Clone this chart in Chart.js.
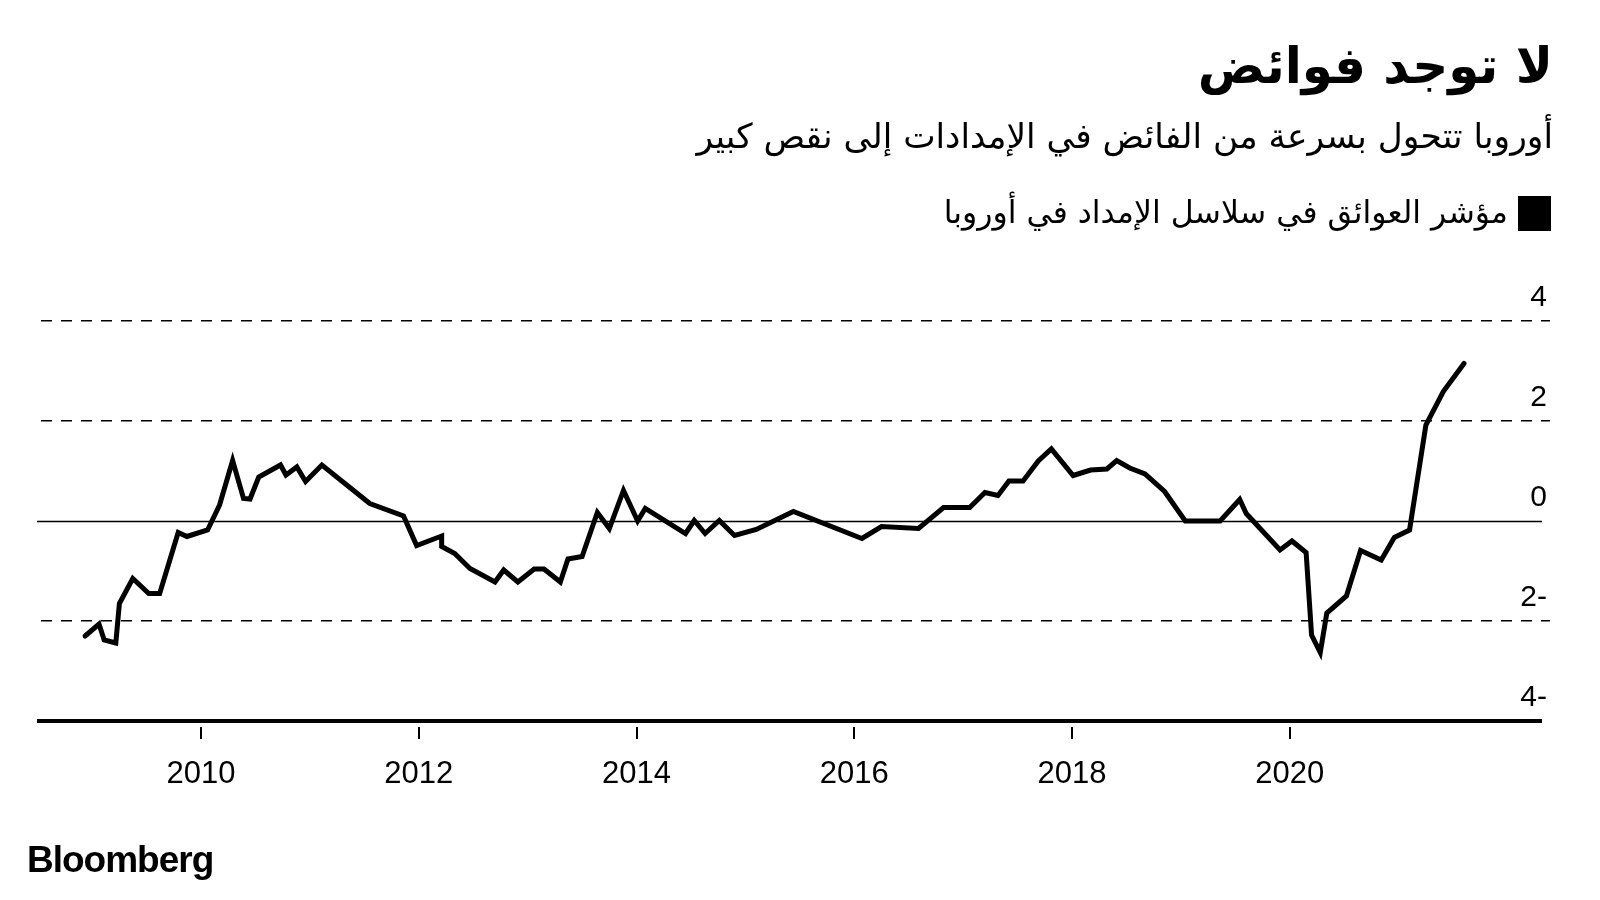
<!DOCTYPE html>
<html lang="ar">
<head>
<meta charset="utf-8">
<script src="https://cdn.jsdelivr.net/npm/chart.js@4.4.1/dist/chart.umd.min.js"></script>
<style>
  html, body { margin: 0; padding: 0; background: #fff; }
  #wrap { position: relative; width: 1600px; height: 900px; overflow: hidden; background: #fff; }
  canvas { position: absolute; left: 0; top: 0; }
  .t { position: absolute; white-space: nowrap; color: #000; }
  #title { right: 47px; top: 38px; font: bold 50px "DejaVu Sans", sans-serif; line-height: 56px; direction: rtl; }
  #subtitle { right: 47px; top: 116px; font: 34.4px "DejaVu Sans", sans-serif; line-height: 40px; direction: rtl; }
  #legend { right: 92px; top: 193px; font: 31.5px "DejaVu Sans", sans-serif; line-height: 38px; direction: rtl; }
  #legendbox { position: absolute; left: 1518px; top: 196px; width: 33px; height: 35px; background: #000; }
  #brand { left: 27px; top: 840px; font: bold 37px "Liberation Sans", Arial, sans-serif; line-height: 40px; letter-spacing: -1px; }
</style>
</head>
<body>
<div id="wrap">
  <canvas id="c" width="1600" height="900"></canvas>
  <div class="t" id="title">لا توجد فوائض</div>
  <div class="t" id="subtitle">أوروبا تتحول بسرعة من الفائض في الإمدادات إلى نقص كبير</div>
  <div id="legendbox"></div>
  <div class="t" id="legend">مؤشر العوائق في سلاسل الإمداد في أوروبا</div>
  <div class="t" id="brand">Bloomberg</div>
</div>
<script>
// Data (decimal years, index value)
const dates = [
  2008.935, 2009.063, 2009.11, 2009.217, 2009.25, 2009.373, 2009.52, 2009.62, 2009.79, 2009.87,
  2010.06, 2010.17, 2010.29, 2010.39, 2010.45, 2010.53, 2010.73, 2010.78, 2010.88, 2010.96,
  2011.11, 2011.55, 2011.86, 2011.98, 2012.21, 2012.21, 2012.33, 2012.47, 2012.70, 2012.78,
  2012.91, 2013.06, 2013.15, 2013.30, 2013.37, 2013.50, 2013.64, 2013.75, 2013.88, 2014.01,
  2014.08, 2014.45, 2014.53, 2014.63, 2014.76, 2014.90, 2015.10, 2015.44, 2016.07, 2016.25,
  2016.59, 2016.82, 2017.06, 2017.20, 2017.32, 2017.42, 2017.55, 2017.69, 2017.81, 2018.01,
  2018.17, 2018.32, 2018.41, 2018.53, 2018.67, 2018.85, 2019.04, 2019.36, 2019.54, 2019.60,
  2019.91, 2020.02, 2020.15, 2020.20, 2020.28, 2020.34, 2020.52, 2020.65, 2020.84, 2020.96,
  2021.10, 2021.25, 2021.41, 2021.60
];
const values = [
  -2.30, -2.06, -2.38, -2.44, -1.65, -1.15, -1.45, -1.45, -0.23, -0.31,
  -0.18, 0.32, 1.21, 0.45, 0.44, 0.88, 1.12, 0.92, 1.08, 0.79,
  1.12, 0.35, 0.10, -0.49, -0.30, -0.51, -0.65, -0.95, -1.22, -0.98,
  -1.22, -0.96, -0.96, -1.22, -0.76, -0.71, 0.17, -0.15, 0.61, 0.00,
  0.25, -0.25, 0.01, -0.25, 0.01, -0.29, -0.17, 0.19, -0.35, -0.11,
  -0.15, 0.27, 0.27, 0.57, 0.51, 0.80, 0.80, 1.20, 1.44, 0.91,
  1.02, 1.04, 1.21, 1.06, 0.94, 0.59, 0.00, 0.00, 0.43, 0.15,
  -0.58, -0.40, -0.63, -2.28, -2.63, -1.84, -1.50, -0.59, -0.78, -0.33,
  -0.18, 1.92, 2.59, 3.15
];
const xTicks = [2010, 2012, 2014, 2016, 2018, 2020];
const xTickLabels = ['2010', '2012', '2014', '2016', '2018', '2020'];
const yTicks = [-4, -2, 0, 2, 4];
const yTickLabels = ['4-', '2-', '0', '2', '4'];
const seriesName = 'مؤشر العوائق في سلاسل الإمداد في أوروبا';

const axisLines = {
  id: 'axisLines',
  beforeDatasetsDraw(chart) {
    const ctx = chart.ctx;
    const x = chart.scales.x, y = chart.scales.y;
    const left = chart.chartArea.left - 4, right = chart.chartArea.right - 8;
    ctx.save();
    ctx.strokeStyle = '#000';
    ctx.lineWidth = 1.3;
    const y0 = Math.round(y.getPixelForValue(0)) + 0.5;
    ctx.beginPath(); ctx.moveTo(left, y0); ctx.lineTo(right, y0); ctx.stroke();
    ctx.lineWidth = 4;
    const yb = y.getPixelForValue(-4);
    ctx.beginPath(); ctx.moveTo(left, yb); ctx.lineTo(right, yb); ctx.stroke();
    ctx.lineWidth = 2;
    x.ticks.forEach(t => {
      const px = Math.round(x.getPixelForValue(t.value));
      ctx.beginPath(); ctx.moveTo(px, yb + 6); ctx.lineTo(px, yb + 18); ctx.stroke();
    });
    ctx.restore();
  }
};

new Chart(document.getElementById('c'), {
  type: 'line',
  data: {
    datasets: [{
      label: seriesName,
      data: dates.map((d, i) => ({ x: d, y: values[i] })),
      borderColor: '#000',
      borderWidth: 5,
      pointRadius: 0,
      tension: 0,
      borderJoinStyle: 'miter',
      borderCapStyle: 'round',
      clip: false
    }]
  },
  options: {
    responsive: false,
    animation: false,
    layout: { padding: { top: 321, left: 41, right: 0, bottom: 0 } },
    plugins: { legend: { display: false }, tooltip: { enabled: false }, title: { display: false } },
    scales: {
      x: {
        type: 'linear',
        position: 'bottom',
        min: 2008.53,
        max: 2022.39,
        afterBuildTicks: s => { s.ticks = xTicks.map(v => ({ value: v })); },
        afterFit: s => { s.height = 179; },
        grid: { display: false, drawTicks: false },
        border: { display: false },
        ticks: {
          padding: 35,
          color: '#000',
          font: { family: 'Liberation Sans', size: 31 },
          callback: (v) => xTickLabels[xTicks.indexOf(v)] ?? ''
        }
      },
      y: {
        type: 'linear',
        position: 'right',
        min: -4,
        max: 4,
        afterBuildTicks: s => { s.ticks = yTicks.map(v => ({ value: v })); },
        afterFit: s => { s.width = 50; },
        grid: {
          drawTicks: false,
          lineWidth: 1.5,
          color: ctx => (ctx.tick && (ctx.tick.value === 0 || ctx.tick.value === -4)) ? 'rgba(0,0,0,0)' : '#000'
        },
        border: { display: false, dash: [11, 9] },
        ticks: {
          mirror: true,
          padding: -3,
          labelOffset: -23,
          color: '#000',
          font: { family: 'Liberation Sans', size: 30 },
          callback: (v) => yTickLabels[yTicks.indexOf(v)] ?? ''
        }
      }
    }
  },
  plugins: [axisLines]
});
</script>
</body>
</html>
